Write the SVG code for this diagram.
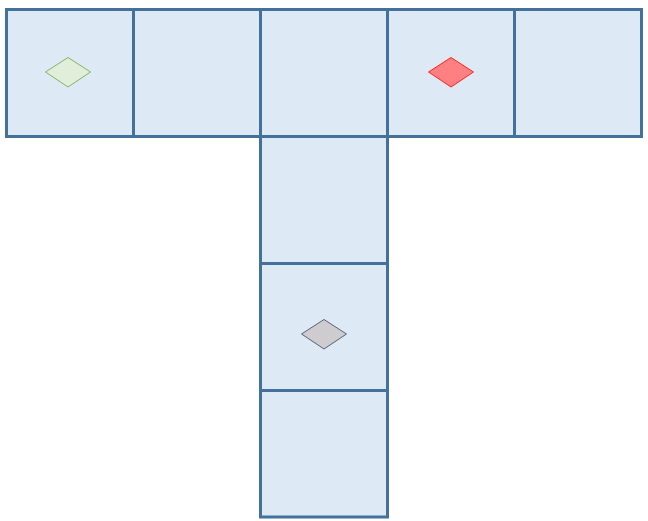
<svg xmlns="http://www.w3.org/2000/svg" width="648" height="521" viewBox="0 0 648 521">
<style>
.cell{fill:#dde9f5;stroke:#43719c;stroke-width:3}
</style>
<rect width="648" height="521" fill="#ffffff"/>
<g id="c1"><rect class="cell" x="6.5" y="9.5" width="127" height="127"/></g>
<g id="c2"><rect class="cell" x="133.5" y="9.5" width="127" height="127"/></g>
<g id="c3"><rect class="cell" x="260.5" y="9.5" width="127" height="127"/></g>
<g id="c4"><rect class="cell" x="387.5" y="9.5" width="127" height="127"/></g>
<g id="c5"><rect class="cell" x="514.5" y="9.5" width="127" height="127"/></g>
<g id="c6"><rect class="cell" x="260.5" y="136.5" width="127" height="127"/></g>
<g id="c7"><rect class="cell" x="260.5" y="263.5" width="127" height="127"/></g>
<g id="c8"><rect class="cell" x="260.5" y="390.5" width="127" height="126.5"/></g>
<g id="d-green"><polygon points="45.5,72 68,57.5 90.5,72 68,87" fill="#e1efda" stroke="#82b366" stroke-width="1"/></g>
<g id="d-red"><polygon points="428.5,72 451,57.5 473.5,72 451,87" fill="#ff8080" stroke="#ff2020" stroke-width="1"/></g>
<g id="d-gray"><polygon points="301.5,334 324,319.5 346.5,334 324,349" fill="#cecccf" stroke="#56617a" stroke-width="1"/></g>
<g id="connectors"></g>
</svg>
